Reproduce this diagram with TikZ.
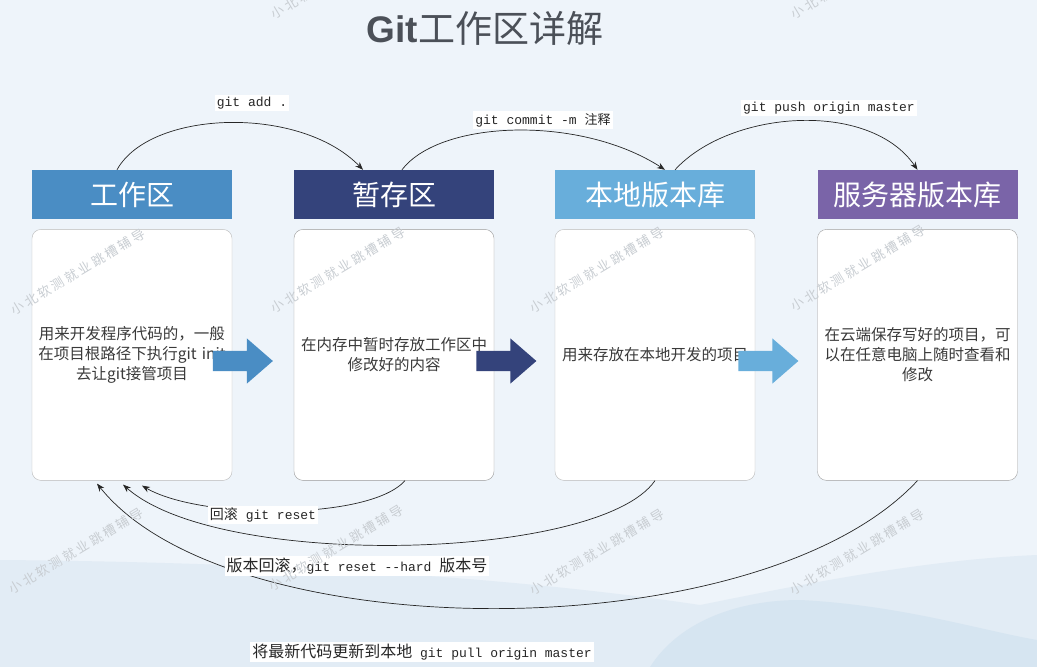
\documentclass[tikz,border=0pt]{standalone}
\usepackage{fontspec}
\setmainfont{Liberation Sans}
\setmonofont{Liberation Mono}
\newfontfamily\cjk{Noto Sans CJK SC}
\newfontfamily\cjkmark[LetterSpace=20]{Noto Sans CJK SC}
\usepackage{tikz}
\usetikzlibrary{
	arrows.meta,
	positioning,
	calc,
	shapes.arrows
}
\usepackage{xcolor}
\definecolor{bgblue}{HTML}{EEF4FA}
\definecolor{wave}{HTML}{E2ECF5}
\definecolor{wavedark}{HTML}{D6E5F1}
\definecolor{workblue}{HTML}{4A8DC4}
\definecolor{stagenavy}{HTML}{34437B}
\definecolor{localblue}{HTML}{68AEDB}
\definecolor{servpurple}{HTML}{7A64A8}
\definecolor{titlegray}{HTML}{4B5058}
\definecolor{textgray}{HTML}{3A3A3A}
\definecolor{markgray}{HTML}{C8CDD2}

\begin{document}
\begin{tikzpicture}[>={Stealth[length=8pt,width=6pt]},x=1pt,y=1pt,
		head/.style={minimum width=200pt,minimum height=49pt,inner sep=0pt,text=white,font=\cjk\fontsize{28}{30}\selectfont},
		body/.style={draw=#1,fill=white,rounded corners=9pt,minimum width=200pt,minimum height=251pt,text width=196pt,inner sep=2pt,align=center,text=textgray,font=\cjk\fontsize{15.5}{20}\selectfont},
		bigarrow/.style={single arrow,fill=#1,minimum height=60pt,inner xsep=0pt,inner ysep=10pt,single arrow head extend=12.5pt,single arrow tip angle=82,single arrow head indent=0pt},
		cmd/.style={fill=white,inner sep=2pt,text=black!85,font=\ttfamily\fontsize{13}{15}\selectfont},
		wmark/.style={text=markgray,rotate=31,font=\cjkmark\fontsize{13}{14}\selectfont},
		flow/.style={->,line width=0.7pt,black!85}]
		
		% Background
		\fill[bgblue] (0,0) rectangle (1037,-667);
		\useasboundingbox (0,0) rectangle (1037,-667);
		\clip (0,0) rectangle (1037,-667);
		\fill[wave] (0,-560) .. controls (250,-562) and (500,-575) .. (700,-605)
			.. controls (800,-585) and (920,-560) .. (1037,-555) -- (1037,-667) -- (0,-667) -- cycle;
		\fill[wavedark] (650,-667) .. controls (680,-620) and (740,-600) .. (800,-600)
			.. controls (900,-605) and (980,-630) .. (1037,-640) -- (1037,-667) -- cycle;
		
		% Title
		\node[text=titlegray,font=\fontsize{37}{40}\selectfont] (title) at (485,-28) {\textbf{Git}{\cjk 工作区详解}};
		
		% Areas
		\node[head,fill=workblue] (work) at (132,-194.5) {工作区};
		\node[head,fill=stagenavy] (stage) at (394,-194.5) {暂存区};
		\node[head,fill=localblue] (local) at (655,-194.5) {本地版本库};
		\node[head,fill=servpurple] (server) at (917.5,-194.5) {服务器版本库};
		
		\node[body=gray!55,below=10pt of work] (workbox) {用来开发程序代码的，一般\\在项目根路径下执行git init\\去让git接管项目};
		\node[body=gray!80,below=10pt of stage] (stagebox) {在内存中暂时存放工作区中\\修改好的内容};
		\node[body=gray!55,below=10pt of local] (localbox) {用来存放在本地开发的项目};
		\node[body=gray!75,below=10pt of server] (serverbox) {在云端保存写好的项目，可\\以在任意电脑上随时查看和\\修改};
		
		\node[bigarrow=workblue] (a1) at (237,-361) {};
		\node[bigarrow=stagenavy] (a2) at (500.5,-361) {};
		\node[bigarrow=localblue] (a3) at (762.5,-361) {};
		
		% Forward commands
		\draw[flow] ([xshift=-15pt]work.north) .. controls +(33,60) and +(-63,65) .. ([xshift=-31pt]stage.north);
		\draw[flow] ([xshift=8pt]stage.north) .. controls +(38,50) and +(-85,55) .. ([xshift=10pt]local.north);
		\draw[flow] ([xshift=20pt]local.north) .. controls +(55,60) and +(-48,70) .. (server.north);
		
		\node[cmd] (addlbl) at (252,-103) {git add .};
		\node[cmd] (commitlbl) at (543,-120) {git commit -m {\cjk\fontsize{13}{15}\selectfont 注释}};
		\node[cmd] (pushlbl) at (829,-108) {git push origin master};
		
		% Backward commands
		\draw[flow] ([xshift=11pt]stagebox.south) .. controls +(-35,-40) and +(58,-34) .. ([xshift=10pt,yshift=-5pt]workbox.south);
		\draw[flow] (localbox.south) .. controls +(-55,-80) and +(97,-86) .. ([xshift=-9pt,yshift=-4pt]workbox.south);
		\draw[flow] (serverbox.south) .. controls +(-158,-170) and +(133,-166) .. ([xshift=-35pt,yshift=-3pt]workbox.south);
		
		\node[cmd] (resetlbl) at (263,-515) {{\cjk\fontsize{14}{15}\selectfont 回滚} git reset};
		\node[cmd] (hardlbl) at (357,-566) {{\cjk\fontsize{16}{16}\selectfont 版本回滚，}git reset --hard {\cjk\fontsize{16}{16}\selectfont 版本号}};
		\node[cmd] (pulllbl) at (422,-652) {{\cjk\fontsize{16}{16}\selectfont 将最新代码更新到本地} git pull origin master};
		
		% Watermarks
		\foreach \x/\y [count=\i] in {338/24,858/24,78/-272,338/-270,597/-270,858/-268,76/-551,336/-548,597/-552,857/-552}
		\node[wmark] (wm\i) at (\x,\y) {小北软测就业跳槽辅导};
		
	\end{tikzpicture}
\end{document}
